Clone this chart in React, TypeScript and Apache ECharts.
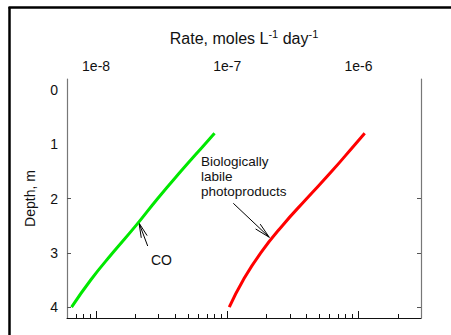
import React, { useEffect, useRef } from "react";
import * as echarts from "echarts";

// Depth (m) of the sampled profile points
const depths = [0.8, 1.0, 1.5, 2.0, 2.5, 3.0, 3.5, 4.0];
// CO photoproduction rate (moles L^-1 day^-1)
const coRates = [8.0e-8, 6.75e-8, 4.43e-8, 2.95e-8, 2.01e-8, 1.34e-8, 9.1e-9, 6.5e-9];
// Biologically labile photoproducts rate (moles L^-1 day^-1)
const bioRates = [1.117e-6, 9.46e-7, 6.26e-7, 4.04e-7, 2.63e-7, 1.8e-7, 1.324e-7, 1.036e-7];

const xMinRate = 6e-9;
const xMaxRate = 3e-6;
const majorExponents = [-8, -7, -6];
const minorRates = [7e-9, 8e-9, 9e-9, 2e-8, 3e-8, 4e-8, 5e-8, 6e-8, 7e-8, 8e-8, 9e-8, 2e-7, 3e-7, 4e-7, 5e-7, 6e-7, 7e-7, 8e-7, 9e-7, 2e-6];
const depthLabels = [0, 1, 2, 3, 4];
const depthTicks = [2, 3, 4];

const FONT = "'Liberation Sans', Arial, sans-serif";

function arrow(tail: number[], tip: number[], len: number, angDeg: number) {
  const dx = tail[0] - tip[0];
  const dy = tail[1] - tip[1];
  const d = Math.hypot(dx, dy);
  const ux = dx / d, uy = dy / d;
  const a = (angDeg * Math.PI) / 180;
  const rot = (s: number) => [
    tip[0] + len * (ux * Math.cos(s * a) - uy * Math.sin(s * a)),
    tip[1] + len * (ux * Math.sin(s * a) + uy * Math.cos(s * a)),
  ];
  const style = { stroke: "#000", lineWidth: 1, fill: "none" };
  return [
    { type: "line", shape: { x1: tail[0], y1: tail[1], x2: tip[0], y2: tip[1] }, style },
    { type: "polyline", shape: { points: [rot(1), tip, rot(-1)] }, style },
  ];
}

export default function App() {
  const ref = useRef<HTMLDivElement>(null);
  useEffect(() => {
    if (!ref.current) return;
    const chart = echarts.init(ref.current, undefined, { renderer: "svg" });
    const lmin = Math.log10(xMinRate);
    const lmax = Math.log10(xMaxRate);
    const baseX = { type: "value", min: lmin, max: lmax, splitLine: { show: false } };
    chart.setOption({
      animation: false,
      backgroundColor: "#fff",
      grid: { left: 67, right: 30, top: 79, bottom: 17 },
      xAxis: [
        {
          ...baseX,
          position: "top",
          axisLine: { show: false, onZero: false },
          axisTick: { show: false },
          axisLabel: {
            customValues: majorExponents,
            formatter: (v: number) => "1e" + Math.round(v),
            fontSize: 14,
            color: "#111",
            fontFamily: FONT,
            margin: 6,
          },
          name: "Rate, moles L{sup|-1} day{sup|-1}",
          nameLocation: "middle",
          nameGap: 31,
          nameTextStyle: {
            fontSize: 16,
            color: "#111",
            fontFamily: FONT,
            rich: {
              sup: { fontSize: 11, fontFamily: FONT, color: "#111", padding: [0, 0, 9, 0] },
            },
          },
        },
        {
          ...baseX,
          position: "bottom",
          axisLine: { show: true, onZero: false, lineStyle: { color: "#111", width: 1 } },
          axisTick: { show: true, inside: true, length: 7, customValues: majorExponents, lineStyle: { color: "#111" } },
          axisLabel: { show: false },
        },
        {
          ...baseX,
          position: "bottom",
          axisLine: { show: false, onZero: false },
          axisTick: { show: true, inside: true, length: 4, customValues: minorRates.map((r) => Math.log10(r)), lineStyle: { color: "#111" } },
          axisLabel: { show: false },
        },
      ],
      yAxis: [
        {
          type: "value",
          inverse: true,
          min: -0.2,
          max: 4.2,
          position: "left",
          splitLine: { show: false },
          axisLine: { show: true, onZero: false, lineStyle: { color: "#777", width: 1.2 } },
          axisTick: { show: true, inside: true, length: 4, customValues: depthTicks, lineStyle: { color: "#555" } },
          axisLabel: { customValues: depthLabels, fontSize: 14, color: "#111", fontFamily: FONT, margin: 9 },
          name: "Depth, m",
          nameLocation: "middle",
          nameGap: 30,
          nameRotate: 90,
          nameTextStyle: { fontSize: 14, color: "#111", fontFamily: FONT },
        },
        {
          type: "value",
          inverse: true,
          min: -0.2,
          max: 4.2,
          position: "right",
          splitLine: { show: false },
          axisLine: { show: true, onZero: false, lineStyle: { color: "#777", width: 1.2 } },
          axisTick: { show: true, inside: true, length: 4, customValues: depthTicks, lineStyle: { color: "#555" } },
          axisLabel: { show: false },
        },
      ],
      series: [
        {
          type: "line",
          xAxisIndex: 0,
          yAxisIndex: 0,
          smooth: true,
          showSymbol: false,
          lineStyle: { color: "#00e800", width: 3 },
          data: coRates.map((r, i) => [Math.log10(r), depths[i]]),
        },
        {
          type: "line",
          xAxisIndex: 0,
          yAxisIndex: 0,
          smooth: true,
          showSymbol: false,
          lineStyle: { color: "#ff0000", width: 3 },
          data: bioRates.map((r, i) => [Math.log10(r), depths[i]]),
        },
      ],
      graphic: [
        { type: "line", shape: { x1: 9.5, y1: 7, x2: 9.5, y2: 335 }, style: { stroke: "#000", lineWidth: 2.5 } },
        { type: "line", shape: { x1: 8.5, y1: 7.5, x2: 451, y2: 7.5 }, style: { stroke: "#000", lineWidth: 2.5 } },
        ...arrow([147.7, 246], [139, 223], 15, 12),
        ...arrow([233.3, 203.3], [269.3, 237.3], 16, 12),
        {
          type: "text",
          x: 151,
          y: 260,
          style: { text: "CO", font: `14px ${FONT}`, fill: "#111", verticalAlign: "middle", align: "left" },
        },
        {
          type: "text",
          x: 201,
          y: 154,
          style: {
            text: "Biologically\nlabile\nphotoproducts",
            font: `13.5px ${FONT}`,
            lineHeight: 15,
            fill: "#111",
            verticalAlign: "top",
            align: "left",
          },
        },
      ],
    });
    return () => chart.dispose();
  }, []);
  return <div ref={ref} style={{ position: "fixed", left: 0, top: 0, width: 451, height: 335 }} />;
}
